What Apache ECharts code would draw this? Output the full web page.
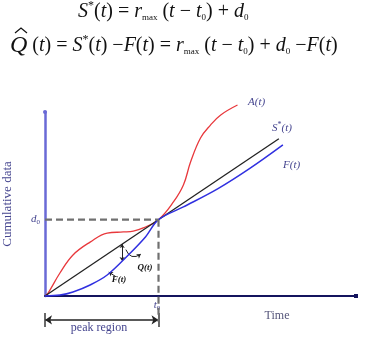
<!DOCTYPE html>
<html><head><meta charset="utf-8">
<script src="https://cdn.jsdelivr.net/npm/echarts@6/dist/echarts.min.js"></script>
<style>html,body{margin:0;padding:0;background:#fff}#c{width:365px;height:346px}</style>
</head><body><div id="c"></div>
<script>
// ---- data (schematic units) ----
const t0 = 3.65;          // time of peak rate
const d0 = 4.15;          // cumulative value at t0
const rmax = d0 / t0;     // max rate (slope of S*)
const sEnd = 7.52;        // end of S*(t) line
const aT = [0, 0.10, 0.48, 0.90, 1.45, 2.00, 2.52, 2.84, 3.16, 3.65, 4.13, 4.45, 4.68, 5.00, 5.32, 5.65, 6.19];
const aV = [0, 0.16, 1.25, 2.23, 2.93, 3.42, 3.48, 3.53, 3.70, 4.15, 5.11, 6.03, 7.28, 8.59, 9.29, 9.84, 10.38];
const fT = [0, 0.48, 0.90, 1.45, 2.00, 2.68, 3.23, 3.65, 4.45, 5.55, 6.61, 7.65];
const fV = [0, 0.05, 0.22, 0.60, 1.14, 2.23, 3.21, 4.15, 4.84, 5.82, 6.96, 8.21];
const qT = 2.48;          // where Q̂(t) is marked
const qLow = 1.90;        // F(qT)
const peakV = -1.30;      // level of the peak-region arrow
const curveLabels = ['A(t)', 'S*(t)', 'F(t)'];
const axisNames = ['Time', 'Cumulative data'];
const peakLabel = 'peak region';

const S = t => rmax * (t - t0) + d0;
const serif = '"Liberation Serif","Times New Roman","DejaVu Serif",serif';
const labelColor = '#45458f';

const chart = echarts.init(document.getElementById('c'), null, {renderer: 'canvas'});

const richBase = (size) => ({
  i: {fontFamily: serif, fontStyle: 'italic', fontSize: size, fill: '#111'},
  n: {fontFamily: serif, fontSize: size, fill: '#111'},
  q: {fontFamily: serif, fontStyle: 'italic', fontSize: size + 4, fill: '#111'},
  sup: {fontFamily: serif, fontSize: size * 0.6, fill: '#111', padding: [0, 0, size * 0.6, 0]},
  sub: {fontFamily: serif, fontSize: size * 0.45, fill: '#111', padding: [size * 0.6, 0, 0, 0]}
});

const pts = (T, V) => T.map((t, k) => [t, V[k]]);

chart.setOption({
  animation: false,
  grid: {left: 45, right: 9, top: 112, bottom: 50, containLabel: false, outerBoundsMode: 'none'},
  xAxis: {
    type: 'value', min: 0, max: 10,
    axisLine: {lineStyle: {color: '#14145e', width: 2}, symbol: ['none', 'rect'], symbolSize: [4, 4]},
    axisTick: {show: false}, axisLabel: {show: false}, splitLine: {show: false}
  },
  yAxis: {
    type: 'value', min: 0, max: 10,
    name: axisNames[1], nameLocation: 'middle', nameGap: 31,
    nameTextStyle: {fontFamily: serif, fontSize: 13, color: labelColor},
    axisLine: {show: true, lineStyle: {color: '#6a6ad6', width: 2.5}, symbol: ['none', 'circle'], symbolSize: [4, 4]},
    axisTick: {show: false}, axisLabel: {show: false}, splitLine: {show: false}
  },
  series: [
    {type: 'line', data: pts(aT, aV), smooth: 0.4, symbol: 'none', clip: false,
     lineStyle: {color: '#e8383c', width: 1.3}},
    {type: 'line', data: [[0, S(0)], [sEnd, S(sEnd)]], symbol: 'none', clip: false,
     lineStyle: {color: '#222', width: 1.3}},
    {type: 'line', data: pts(fT, fV), smooth: 0.35, symbol: 'none', clip: false,
     lineStyle: {color: '#3030e0', width: 1.5}},
    {type: 'line', data: [[0, d0], [t0, d0]], symbol: 'none', clip: false,
     lineStyle: {color: '#707070', width: 2.2, type: [7, 4]}},
    {type: 'line', data: [[t0, d0], [t0, peakV - 0.1]], symbol: 'none', clip: false,
     lineStyle: {color: '#707070', width: 2.2, type: [7, 4]}},
    {type: 'lines', coordinateSystem: 'cartesian2d', clip: false,
     symbol: ['arrow', 'arrow'], symbolSize: 7,
     lineStyle: {color: '#222', width: 1.6, opacity: 1},
     data: [{coords: [[0, peakV], [t0, peakV]]}]},
    {type: 'lines', coordinateSystem: 'cartesian2d', clip: false, symbol: 'none',
     lineStyle: {color: '#444', width: 1.6, opacity: 1},
     data: [{coords: [[0, peakV + 0.38], [0, peakV - 0.38]]}, {coords: [[t0, peakV + 0.38], [t0, peakV - 0.38]]}]},
    {type: 'lines', coordinateSystem: 'cartesian2d', clip: false,
     symbol: ['arrow', 'arrow'], symbolSize: 4,
     lineStyle: {color: '#222', width: 1, opacity: 1},
     data: [{coords: [[qT, S(qT)], [qT, qLow]]}]},
    {type: 'lines', coordinateSystem: 'cartesian2d', clip: false,
     symbol: ['none', 'arrow'], symbolSize: 4,
     lineStyle: {color: '#222', width: 1, opacity: 1, curveness: -0.6},
     data: [{coords: [[qT + 0.12, S(qT) - 0.3], [qT + 0.6, S(qT) - 0.55]]}]},
    {type: 'lines', coordinateSystem: 'cartesian2d', clip: false,
     symbol: ['none', 'arrow'], symbolSize: 4,
     lineStyle: {color: '#222', width: 1, opacity: 1},
     data: [{coords: [[2.28, 1.05], [2.05, 1.3]]}]}
  ],
  graphic: [
    {type: 'text', x: 78, y: 12, style: {
      text: '{i|S}{sup|*}{n|(}{i|t}{n|) = }{i|r}{sub|max}{n| (}{i|t}{n| − }{i|t}{sub|0}{n|) + }{i|d}{sub|0}',
      rich: richBase(20), align: 'left', verticalAlign: 'middle'}},
    {type: 'text', x: 10, y: 46, style: {
      text: '{q|Q}{n| (}{i|t}{n|) = }{i|S}{sup|*}{n|(}{i|t}{n|) −}{i|F}{n|(}{i|t}{n|) = }{i|r}{sub|max}{n| (}{i|t}{n| − }{i|t}{sub|0}{n|) + }{i|d}{sub|0}{n| −}{i|F}{n|(}{i|t}{n|)}',
      rich: richBase(20), align: 'left', verticalAlign: 'middle'}},
    {type: 'polyline', shape: {points: [[15, 33], [21, 28], [27, 33]]}, style: {stroke: '#111', lineWidth: 1.2, fill: null}},
    {type: 'text', x: 248, y: 102, style: {text: curveLabels[0], font: 'italic 11px ' + serif, fill: labelColor, align: 'left', verticalAlign: 'middle'}},
    {type: 'text', x: 272, y: 128, style: {text: '{i|S}{s|*}{i|(t)}', rich: {
      i: {fontFamily: serif, fontStyle: 'italic', fontSize: 11, fill: labelColor},
      s: {fontFamily: serif, fontSize: 8, fill: labelColor, padding: [0, 0, 7, 0]}}, align: 'left', verticalAlign: 'middle'}},
    {type: 'text', x: 283, y: 165, style: {text: curveLabels[2], font: 'italic 11px ' + serif, fill: labelColor, align: 'left', verticalAlign: 'middle'}},
    {type: 'text', x: 40, y: 219, style: {text: '{i|d}{s|0}', rich: {
      i: {fontFamily: serif, fontStyle: 'italic', fontSize: 11, fill: labelColor},
      s: {fontFamily: serif, fontSize: 7, fill: labelColor, padding: [6, 0, 0, 0]}}, align: 'right', verticalAlign: 'middle'}},
    {type: 'text', x: 157, y: 305, style: {text: '{i|t}{s|0}', rich: {
      i: {fontFamily: serif, fontStyle: 'italic', fontSize: 11, fill: labelColor},
      s: {fontFamily: serif, fontSize: 7, fill: labelColor, padding: [6, 0, 0, 0]}}, align: 'center', verticalAlign: 'middle'}},
    {type: 'text', x: 277, y: 316, style: {text: axisNames[0], font: '12px ' + serif, fill: '#55557a', align: 'center', verticalAlign: 'middle'}},
    {type: 'text', x: 99, y: 328, style: {text: peakLabel, font: '12px ' + serif, fill: labelColor, align: 'center', verticalAlign: 'middle'}},
    {type: 'text', x: 145, y: 268, style: {text: 'Q(t)', font: 'bold italic 9px ' + serif, fill: '#111', align: 'center', verticalAlign: 'middle'}},
    {type: 'text', x: 119, y: 280, style: {text: 'F(t)', font: 'bold italic 9px ' + serif, fill: '#111', align: 'center', verticalAlign: 'middle'}}
  ]
});
</script></body></html>
